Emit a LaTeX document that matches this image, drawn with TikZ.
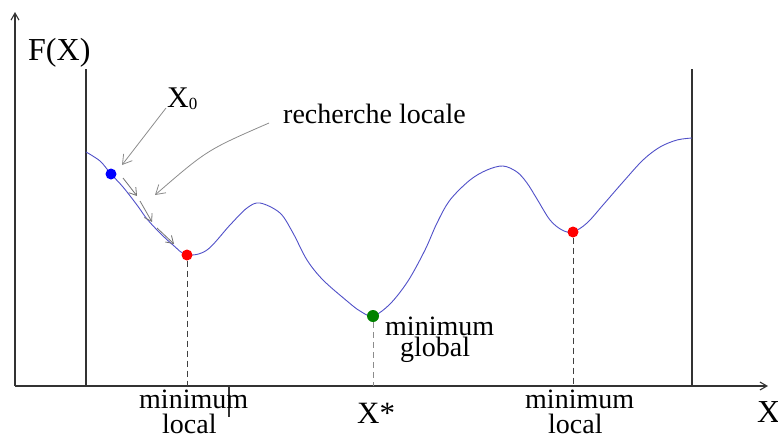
\documentclass[tikz,border=0pt]{standalone}
\usepackage{fontspec}
\setmainfont{Liberation Serif}
\usetikzlibrary{arrows.meta}
\begin{document}
\begin{tikzpicture}[x=1pt,y=-1pt,
  lbl/.style={inner sep=0pt, anchor=base west, font=\fontsize{28}{30}\selectfont},
  big/.style={inner sep=0pt, anchor=base west, font=\fontsize{31}{33}\selectfont},
  axisline/.style={line width=1.1pt, draw=black!80, -{Straight Barb[length=7pt,width=8pt]}},
  frameline/.style={line width=1.1pt, draw=black!80},
  curveline/.style={line width=0.9pt, draw={rgb,255:red,80;green,80;blue,200}},
  guide/.style={line width=1pt, draw=black!75, dash pattern=on 6pt off 4pt},
  pointer/.style={draw=black!45, line width=0.8pt, -{Straight Barb[length=9pt,width=11pt]}},
  smallpointer/.style={draw=black!55, line width=0.8pt, -{Straight Barb[length=7pt,width=9pt]}},
  dot/.style={circle, inner sep=0pt, minimum size=11pt}
]
\useasboundingbox (0,0) rectangle (778,437);
% axes
\coordinate (O) at (15,386);
\coordinate (ytop) at (15,12);
\coordinate (xend) at (768,386);
\draw[axisline] (O) -- (ytop);
\draw[axisline] (O) -- (xend);
% frame lines
\coordinate (lt) at (86,69);
\coordinate (lb) at (86,386);
\coordinate (rt) at (692,69);
\coordinate (rb) at (692,386);
\draw[frameline] (lt) -- (lb);
\draw[frameline] (rt) -- (rb);
\coordinate (tk1) at (229,386);
\coordinate (tk2) at (229,417);
\draw[frameline] (tk1) -- (tk2);
% curve
\draw[curveline] plot[smooth, tension=0.55] coordinates {
(86,152) (100,161) (111,174) (123,187) (137,205) (147,219) (160,233) (173,245) (187,255)
(207,250) (230,225) (247,208) (260,203) (280,213) (293,233) (307,260) (323,280) (347,301)
(360,311) (373,316) (390,304) (408,281) (425,250) (437,223) (450,200) (470,180) (487,170)
(503,166) (517,172) (527,183) (537,199) (550,220) (562,230) (573,232) (587,223) (603,205)
(623,182) (643,160) (660,147) (677,140) (692,138)};
% dots
\node[dot, fill=blue] (x0) at (111,174) {};
\node[dot, fill=red] (m1) at (187,255) {};
\node[dot, fill={rgb,255:red,0;green,130;blue,0}, minimum size=12pt] (mg) at (373,316) {};
\node[dot, fill=red] (m3) at (573,232) {};
% guide lines
\draw[guide] (m1) -- (m1 |- O);
\draw[guide, draw=black!45] (mg) -- (mg |- O);
\draw[guide] (m3) -- (m3 |- O);
% labels
\node[big, font=\fontsize{32}{34}\selectfont] (fx) at (28,60) {F(X)};
\node[big, font=\fontsize{30}{32}\selectfont] (x0lbl) at (167,107) {X\raisebox{-2pt}{\fontsize{17}{17}\selectfont 0}};
\node[lbl] (rl) at (283,123) {recherche locale};
\node[lbl] (min1a) at (139,408) {minimum};
\node[lbl] (min1b) at (162,433) {local};
\node[big] (xstar) at (357,423) {X*};
\node[lbl] (mga) at (385,335) {minimum};
\node[lbl] (mgb) at (400,356) {global};
\node[lbl] (min3a) at (525,408) {minimum};
\node[lbl] (min3b) at (548,433) {local};
\node[big, font=\fontsize{32}{34}\selectfont] (xl) at (757,422) {X};
% pointers
\coordinate (p0s) at (166,108);
\coordinate (p0e) at (122,165);
\draw[pointer] (p0s) -- (p0e);
\coordinate (rls) at (269,123);
\coordinate (rle) at (155,195);
\draw[pointer] (rls) .. controls (207,150) .. (rle);
\coordinate (a1s) at (123,178);
\coordinate (a1e) at (137,196);
\coordinate (a2s) at (140,201);
\coordinate (a2e) at (152,222);
\coordinate (a3s) at (157,228);
\coordinate (a3e) at (174,244);
\draw[smallpointer] (a1s) -- (a1e);
\draw[smallpointer] (a2s) -- (a2e);
\draw[smallpointer] (a3s) -- (a3e);
\end{tikzpicture}
\end{document}
